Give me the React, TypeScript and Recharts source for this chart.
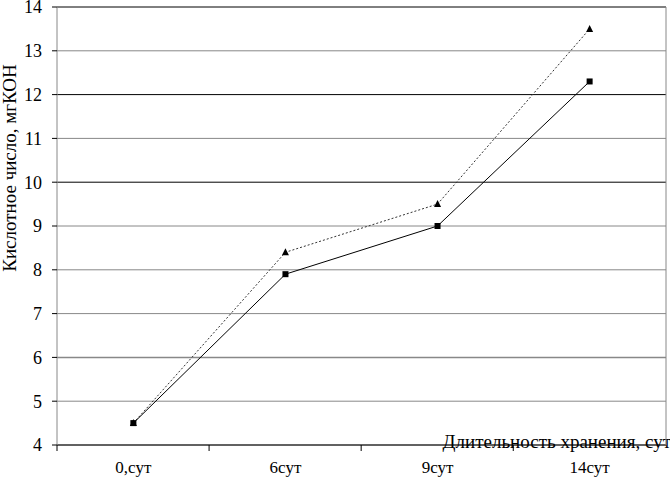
import { Label, Line, LineChart, ReferenceLine, XAxis, YAxis } from "recharts";

const categories = ["0,сут", "6сут", "9сут", "14сут"];
const squareSeries = [4.5, 7.9, 9.0, 12.3];
const triangleSeries = [4.5, 8.4, 9.5, 13.5];
const yTicks = [4, 5, 6, 7, 8, 9, 10, 11, 12, 13, 14];

const darkLines = [10, 12, 14];
const font = "'Times New Roman', 'Liberation Serif', 'DejaVu Serif', serif";

const data = categories.map((c, i) => ({
    cat: c,
    sq: squareSeries[i],
    tri: triangleSeries[i],
}));

const W = 670;
const H = 480;
const margin = { top: 7, right: 2, bottom: 0, left: 0 };
const yAxisWidth = 57;
const xAxisHeight = 35;
const plotWidth = W - margin.left - margin.right - yAxisWidth;
const halfBand = plotWidth / categories.length / 2;

const SquareDot = (props: any) => {
    const { cx, cy } = props;
    if (cx == null || cy == null) return null;
    return <rect x={cx - 3} y={cy - 3} width={6} height={6} fill="#000" />;
};

const TriangleDot = (props: any) => {
    const { cx, cy } = props;
    if (cx == null || cy == null) return null;
    return <polygon points={`${cx},${cy - 4} ${cx - 3.5},${cy + 3} ${cx + 3.5},${cy + 3}`} fill="#000" />;
};

const XTick = (props: any) => {
    const { x, y, payload } = props;
    return (
        <g>
            <line x1={x - halfBand} x2={x - halfBand} y1={y - 8} y2={y - 2} stroke="#000" />
            <text x={x} y={y + 20} textAnchor="middle" fontSize={17} style={{ fontFamily: font }} fill="#000">
                {payload.value}
            </text>
        </g>
    );
};

export default function App() {
    return (
        <div style={{ position: "absolute", left: 0, top: 0, background: "#fff", fontFamily: font }}>
            <LineChart width={W} height={H} data={data} margin={margin} style={{ fontFamily: font }}>
                {yTicks.map((v) => (
                    <ReferenceLine
                        key={v}
                        y={v}
                        stroke={darkLines.includes(v) ? "#000" : "#888"}
                        strokeWidth={v === 6 ? 1.5 : 1}
                    />
                ))}
                <XAxis
                    dataKey="cat"
                    height={xAxisHeight}
                    padding={{ left: halfBand, right: halfBand }}
                    axisLine={{ stroke: "#000" }}
                    tickLine={false}
                    tick={<XTick />}
                    interval={0}
                >
                    <Label
                        content={(p: any) => {
                            const vb = p.viewBox;
                            return (
                                <text
                                    x={vb.x + vb.width + 5}
                                    y={vb.y + 3}
                                    textAnchor="end"
                                    fontSize={19}
                                    style={{ fontFamily: font }}
                                    fill="#000"
                                >
                                    Длительность хранения, сут
                                </text>
                            );
                        }}
                    />
                </XAxis>
                <YAxis
                    width={yAxisWidth}
                    domain={[4, 14]}
                    ticks={yTicks}
                    interval={0}
                    axisLine={{ stroke: "#888" }}
                    tickLine={{ stroke: "#000" }}
                    tickSize={5}
                    tickMargin={10}
                    tick={{ fontSize: 18, fontFamily: font, fill: "#000" }}
                >
                    <Label
                        content={() => (
                            <text
                                transform="translate(16,168) rotate(-90)"
                                textAnchor="middle"
                                fontSize={19}
                                style={{ fontFamily: font }}
                                fill="#000"
                            >
                                Кислотное число, мгКОН
                            </text>
                        )}
                    />
                </YAxis>
                <YAxis
                    yAxisId="right"
                    orientation="right"
                    width={margin.right}
                    domain={[4, 14]}
                    tick={false}
                    tickLine={false}
                    axisLine={{ stroke: "#888" }}
                />
                <Line
                    dataKey="tri"
                    stroke="#333"
                    strokeWidth={1}
                    strokeDasharray="2 2"
                    dot={<TriangleDot />}
                    isAnimationActive={false}
                />
                <Line
                    dataKey="sq"
                    stroke="#000"
                    strokeWidth={1}
                    dot={<SquareDot />}
                    isAnimationActive={false}
                />
            </LineChart>
        </div>
    );
}
